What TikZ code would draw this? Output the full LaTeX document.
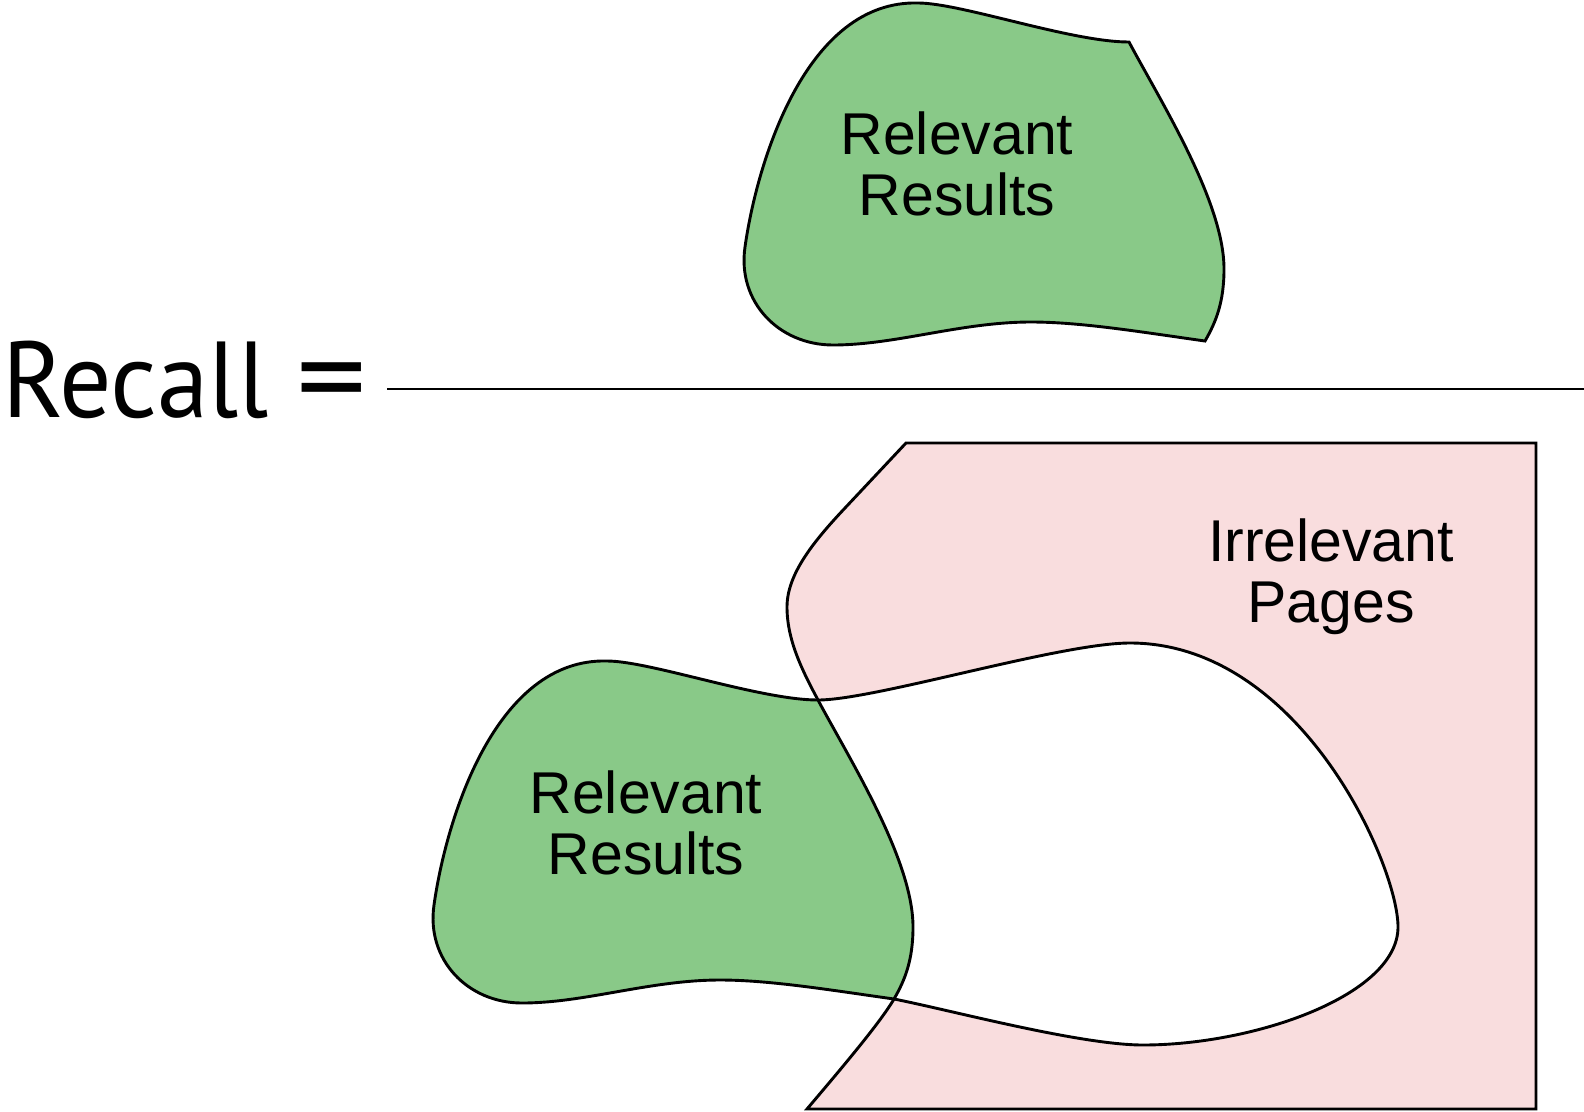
\documentclass[tikz,border=0pt]{standalone}
\usepackage{fontspec}
\usepackage{graphicx}
\setmainfont{Liberation Sans}
\newfontfamily\recallfont{PT Sans}
\definecolor{relgreen}{RGB}{137,201,136}
\definecolor{irrpink}{RGB}{249,221,222}
\newcommand\relregion{(434,905) .. controls (446,820) and (495,658) .. (607,661)
 .. controls (650,661) and (760,700) .. (818,700)
 .. controls (850,760) and (913,860) .. (913,927)
 .. controls (913,960) and (905,980) .. (894,999)
 .. controls (830,990) and (770,980) .. (720,980)
 .. controls (650,980) and (585,1003) .. (522,1003)
 .. controls (468,1003) and (426,960) .. (434,905) -- cycle}
\newcommand\retblob{(434,905) .. controls (446,820) and (495,658) .. (607,661)
 .. controls (650,661) and (760,700) .. (818,700)
 .. controls (875,700) and (1060,643) .. (1130,643)
 .. controls (1300,643) and (1398,865) .. (1398,927)
 .. controls (1398,995) and (1255,1045) .. (1143,1045)
 .. controls (1080,1045) and (950,1010) .. (894,999)
 .. controls (830,990) and (770,980) .. (720,980)
 .. controls (650,980) and (585,1003) .. (522,1003)
 .. controls (468,1003) and (426,960) .. (434,905) -- cycle}
\newcommand\irrshape{(906,443) -- (845,508) .. controls (812,543) and (787,575) .. (787,607)
 .. controls (787,640) and (802,670) .. (818,700)
 .. controls (850,760) and (913,860) .. (913,927)
 .. controls (913,960) and (905,980) .. (894,999)
 .. controls (880,1023) and (840,1070) .. (807,1109)
 -- (1536,1109) -- (1536,443) -- cycle}
\begin{document}
\begin{tikzpicture}[x=1pt,y=-1pt,
  outline/.style={draw=black,line width=2.9pt},
  lbl/.style={font=\fontsize{59}{61}\selectfont,align=center,inner sep=0pt}]
\useasboundingbox (0,0) rectangle (1584,1111);
% bottom group
\fill[irrpink] \irrshape;
\fill[white] \retblob;
\fill[relgreen] \relregion;
\draw[outline] \retblob;
\draw[outline] \irrshape;
% top blob
\begin{scope}[shift={(311,-658)}]
\filldraw[fill=relgreen,outline] \relregion;
\end{scope}
% fraction
\coordinate (fracL) at (387,389);
\coordinate (fracR) at (1584,389);
\draw[line width=2.5pt] (fracL) -- (fracR);
\node[anchor=base west,inner sep=0pt,xscale=0.96,font=\recallfont\fontsize{108}{120}\selectfont] (recall) at (2,417) {Recall \raisebox{-2pt}{\scalebox{1.35}[1.15]{=}}};
\node[lbl,anchor=base] (reltop) at (957,215) {Relevant\\Results};
\node[lbl,anchor=base] (relbot) at (646,874) {Relevant\\Results};
\node[lbl,anchor=base] (irr) at (1331,622) {Irrelevant\\Pages};
\end{tikzpicture}
\end{document}
